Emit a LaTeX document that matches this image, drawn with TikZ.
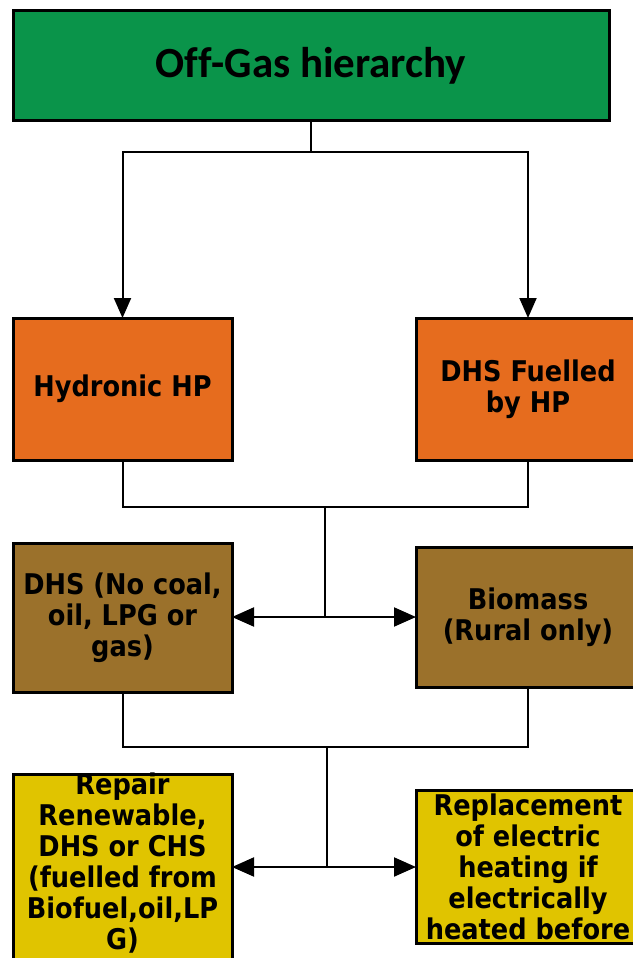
\documentclass[tikz,border=0pt]{standalone}
\usepackage{fontspec}
\setmainfont{DejaVu Sans Condensed}
\newfontfamily\topfont[Ligatures=NoCommon]{Carlito}
\usetikzlibrary{arrows.meta}
\definecolor{cgreen}{RGB}{10,148,74}
\definecolor{corange}{RGB}{230,108,30}
\definecolor{cbrown}{RGB}{155,113,43}
\definecolor{cyellow}{RGB}{224,196,0}
\tikzset{
  box/.style={draw=black, line width=3pt, rectangle, inner sep=0pt, outer sep=0pt, align=center,
    font=\fontsize{28.5}{31}\selectfont\bfseries},
  lbl/.style={align=center, inner sep=0pt, font=\fontsize{28.5}{31}\selectfont\bfseries},
  conn/.style={draw=black, line width=2pt},
  tip/.style={-{Triangle[length=20pt,width=17pt]}},
  ttip/.style={{Triangle[length=22pt,width=19pt]}-{Triangle[length=22pt,width=19pt]}}
}
\begin{document}
\begin{tikzpicture}[x=1pt,y=-1pt]
\useasboundingbox (0,0) rectangle (632,958);
\fill[white] (0,0) rectangle (632,958);
% nodes
\node[box, fill=cgreen, minimum width=596pt, minimum height=109pt] (top) at (311,65.5)
  {\topfont\fontsize{43}{48}\selectfont\bfseries Of\kern0.5pt f-Gas hierarchy};
\node[box, fill=corange, minimum width=219pt, minimum height=142pt] (ol) at (122.5,389) {Hydronic HP};
\node[box, fill=corange, minimum width=224pt, minimum height=142pt] (or) at (528,389) {DHS Fuelled\\by HP};
\node[box, fill=cbrown, minimum width=219pt, minimum height=149pt] (bl) at (122.5,617.5) {DHS (No coal,\\oil, LPG or\\gas)};
\node[box, fill=cbrown, minimum width=224pt, minimum height=140pt] (br) at (528,617) {Biomass\\(Rural only)};
\node[box, fill=cyellow, minimum width=219pt, minimum height=196pt] (yl) at (122.5,872) {};
\node[lbl] (ylt) at (122.5,863) {Repair\\Renewable,\\DHS or CHS\\(fuelled from\\Biofuel,oil,LP\\G)};
\node[box, fill=cyellow, minimum width=224pt, minimum height=153pt] (yr) at (528,866.5) {Replacement\\of electric\\heating if\\electrically\\heated before};
% junctions
\coordinate (j0) at (311,152);
\coordinate (j1) at (325,507);
\coordinate (k1) at (325,617);
\coordinate (j2) at (327,747);
\coordinate (k2) at (327,867);
% connectors
\draw[conn] (top.south) -- (j0);
\draw[conn, tip] (j0) -| (ol.north);
\draw[conn, tip] (j0) -| (or.north);
\draw[conn] (ol.south) |- (j1) -| (or.south);
\draw[conn] (j1) -- (k1);
\draw[conn, ttip] (bl.east |- k1) -- (br.west |- k1);
\draw[conn] (bl.south) |- (j2) -| (br.south);
\draw[conn] (j2) -- (k2);
\draw[conn, ttip] (yl.east |- k2) -- (yr.west |- k2);
\end{tikzpicture}
\end{document}
